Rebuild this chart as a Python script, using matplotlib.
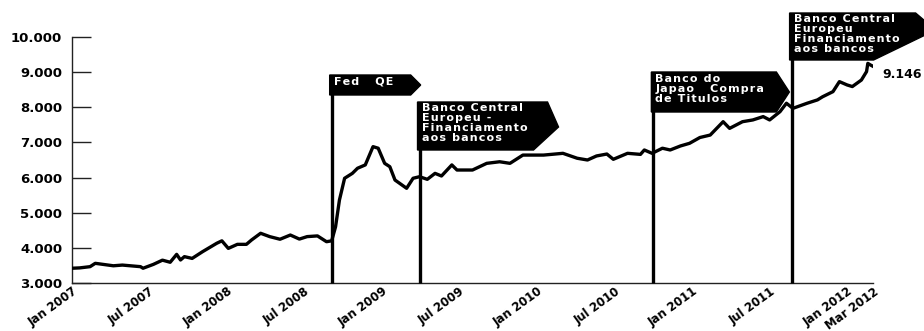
import matplotlib
matplotlib.use("Agg")
import matplotlib.pyplot as plt
from matplotlib.patches import Polygon

# Series: months elapsed since Jan 2007, index value
months = [0.0, 0.6, 1.4, 1.8, 3.2, 3.9, 5.3, 5.5, 6.3, 7.0, 7.6, 8.1, 8.4, 8.7, 9.3,
          10.1, 11.2, 11.6, 12.1, 12.8, 13.5, 13.9, 14.6, 15.3, 16.1, 16.9, 17.6,
          18.2, 19.0, 19.7, 20.1, 20.4, 20.7, 21.1, 21.7, 22.1, 22.7, 23.3, 23.7,
          24.2, 24.6, 25.0, 25.9, 26.4, 26.9, 27.5, 28.1, 28.6, 29.4, 29.8, 31.0,
          32.1, 33.1, 33.9, 34.9, 36.5, 38.0, 39.1, 39.9, 40.6, 41.4, 41.9, 43.0,
          44.0, 44.3, 44.9, 45.7, 46.3, 47.1, 47.8, 48.6, 49.4, 50.4, 50.9, 51.9,
          52.7, 53.5, 54.0, 54.8, 55.3, 55.8, 56.9, 57.7, 58.1, 58.9, 59.4, 60.0,
          60.4, 61.1, 61.5, 61.6, 61.8, 62.1]
values = [3420, 3430, 3465, 3560, 3490, 3510, 3465, 3420, 3530, 3650, 3590, 3815,
          3655, 3750, 3700, 3890, 4130, 4200, 3985, 4100, 4100, 4225, 4415, 4320,
          4245, 4365, 4250, 4320, 4340, 4175, 4200, 4600, 5360, 5980, 6120, 6265,
          6360, 6880, 6835, 6405, 6310, 5930, 5695, 5980, 6025, 5950, 6120, 6045,
          6360, 6215, 6215, 6405, 6450, 6405, 6640, 6640, 6690, 6550, 6500, 6615,
          6670, 6520, 6690, 6660, 6785, 6690, 6835, 6785, 6900, 6975, 7140, 7210,
          7590, 7400, 7590, 7640, 7735, 7640, 7875, 8115, 7970, 8115, 8210, 8300,
          8445, 8730, 8635, 8590, 8775, 9015, 9250, 9205, 9146]

tick_months = [0, 6, 12, 18, 24, 30, 36, 42, 48, 54, 60, 62]
tick_labels = ["Jan 2007", "Jul 2007", "Jan 2008", "Jul 2008", "Jan 2009",
               "Jul 2009", "Jan 2010", "Jul 2010", "Jan 2011", "Jul 2011",
               "Jan 2012", "Mar 2012"]
y_ticks = [3000, 4000, 5000, 6000, 7000, 8000, 9000, 10000]

# Policy events: month position and flag text
event_months = [20.1, 26.9, 45.0, 55.7]
event_texts = ["Fed   QE",
               "Banco Central\nEuropeu -\nFinanciamento\naos bancos",
               "Banco do\nJapao   Compra\nde Titulos",
               "Banco Central\nEuropeu\nFinanciamento\naos bancos"]

HAIR = "\u200a"


def fmt(v):
    return f"{v:,.0f}".replace(",", ".")


def spaced(s):
    # widen letter spacing on the flag captions
    return "\n".join(HAIR.join(line) for line in s.split("\n"))


fig = plt.figure(figsize=(9.24, 3.31), dpi=100)
ax = fig.add_axes([72 / 924, 48 / 331, 801 / 924, 246 / 331])

ax.plot(months, values, color="black", lw=2.4, solid_joinstyle="round", zorder=3)

ax.set_xlim(0, 62)
ax.set_ylim(3000, 10000)
for s in ("top", "right"):
    ax.spines[s].set_visible(False)
for s in ("left", "bottom"):
    ax.spines[s].set_linewidth(1.0)
    ax.spines[s].set_color("#222222")

ax.set_yticks(y_ticks)
ax.set_yticklabels([fmt(v) for v in y_ticks], fontsize=9.5, fontweight="bold")
ax.tick_params(axis="y", direction="in", length=14, width=1.0, pad=7, color="#222222")

ax.set_xticks(tick_months)
ax.set_xticklabels(tick_labels, fontsize=8.5, fontweight="bold", rotation=36,
                   ha="right", va="top", rotation_mode="anchor")
ax.tick_params(axis="x", length=0, pad=1.5)

# Flag geometry in pixel units relative to the event line: (top, bottom, body width, tip width)
px_x = 62 / 801   # months per pixel
px_y = 7000 / 246  # value per pixel


def yv(py):
    return 3000 + (283 - py) * px_y


flag_shapes = [
    (75, 95, 81, 10),
    (102, 150, 130, 11),
    (72, 112, 125, 13),
    (13, 60, 126, 20),
]

for i, (m, txt, (top, bot, body, tip)) in enumerate(zip(event_months, event_texts, flag_shapes)):
    ax.plot([m, m], [3000, yv(top)], color="black", lw=2.4, clip_on=False,
            solid_capstyle="butt", zorder=4)
    x0 = m - 2 * px_x
    x1 = x0 + body * px_x
    xt = x1 + tip * px_x
    if i == 3:
        pts = [(x0, yv(top)), (x1, yv(top)), (x1 + 20 * px_x, yv(top + 17)),
               (x0 + 84 * px_x, yv(bot)), (x0, yv(bot))]
    elif i == 1:
        pts = [(x0, yv(top)), (x1, yv(top)), (xt, yv(top + 25)),
               (x0 + 116 * px_x, yv(bot)), (x0, yv(bot))]
    else:
        mid = (top + bot) / 2
        pts = [(x0, yv(top)), (x1, yv(top)), (xt, yv(mid)), (x1, yv(bot)), (x0, yv(bot))]
    ax.add_patch(Polygon(pts, closed=True, facecolor="black", edgecolor="black",
                         clip_on=False, zorder=5))
    ax.text(m + 2 * px_x, yv(top + 1.5), spaced(txt), color="white", fontsize=8,
            fontweight="bold", ha="left", va="top", linespacing=1.0,
            clip_on=False, zorder=6)

ax.text(months[-1] + 0.6, yv(75), fmt(values[-1]), fontsize=9, fontweight="bold",
        ha="left", va="center", clip_on=False)

fig.savefig("out.png", dpi=100)
